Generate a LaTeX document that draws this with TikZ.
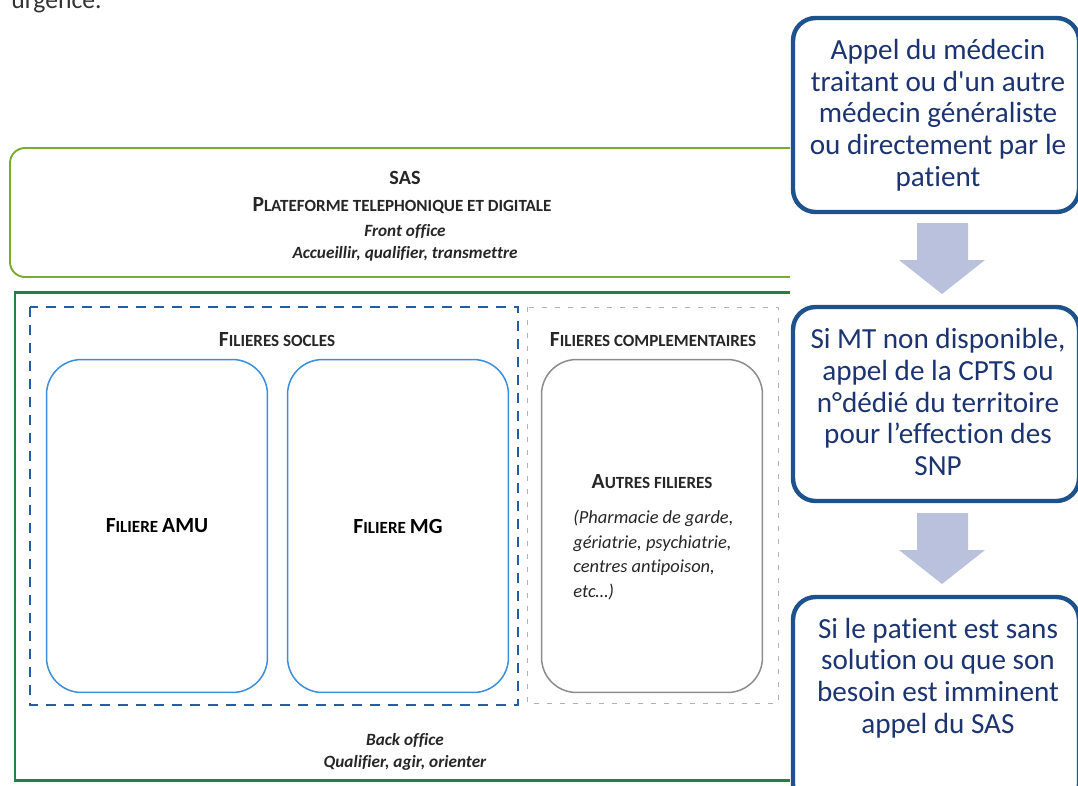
\documentclass[tikz,border=0pt]{standalone}
\usepackage{fontspec}
\setmainfont{Carlito}[Ligatures={TeX,NoCommon}]
\usepackage{tikz}
\usetikzlibrary{calc}
\usetikzlibrary{positioning}

\definecolor{sasgreen}{RGB}{124,172,46}
\definecolor{backgreen}{RGB}{40,128,64}
\definecolor{socleblue}{RGB}{38,92,160}
\definecolor{filblue}{RGB}{60,142,218}
\definecolor{stepblue}{RGB}{30,82,140}
\definecolor{steptext}{RGB}{28,52,112}
\definecolor{arrowgray}{RGB}{186,193,220}

% fake small caps: first letter big, rest small
\newcommand\fsc[2]{{\fontsize{12.3}{14}\selectfont #1}{\fontsize{9.7}{11}\selectfont #2}}

\tikzset{
 stepbox/.style={draw=stepblue, line width=2.5pt, rounded corners=0.45cm, fill=white, minimum width=5.72cm, minimum height=3.88cm},
 steptxt/.style={text=steptext, align=center, font=\fontsize{16.6}{18}\selectfont},
 filbox/.style={draw=filblue, line width=0.85pt, rounded corners=0.7cm, minimum width=4.42cm, minimum height=6.66cm, font=\bfseries},
 lbl/.style={font=\bfseries, text=black!85, inner sep=0pt},
 itlbl/.style={font=\fontsize{9.8}{12}\selectfont\bfseries\itshape, text=black!85, inner sep=0pt}
}

\begin{document}
\begin{tikzpicture}[x=0.02cm, y=-0.02cm]
\useasboundingbox (0,0) rectangle (1078,785);

%text above
\node (urgence) [anchor=base west, inner sep=0pt, font=\fontsize{14.6}{16}\selectfont, text=black!80] at (11,8) {urgence.};

%sas box
\draw[sasgreen, line width=1.1pt, rounded corners=0.3cm] (790,148) -- (10,148) -- (10,277) -- (790,277);
\node (sas) [lbl, font=\fontsize{11.5}{13}\selectfont\bfseries] at (405,178) {SAS};
\node (plateforme) [lbl] at (402,206) {\fsc{P}{LATEFORME TELEPHONIQUE ET DIGITALE}};
\node (front) [itlbl] at (405,231) {Front office};
\node (accueil) [itlbl] at (405,254) {Accueillir, qualifier, transmettre};

%back office box
\draw[backgreen, line width=1.7pt] (790,292) -- (15,292) -- (15,780) -- (790,780);
\node (back) [itlbl] at (405,740) {Back office};
\node (orienter) [itlbl] at (405,763) {Qualifier, agir, orienter};

%filieres socles
\draw[socleblue, line width=1.1pt, dash pattern=on 0.2cm off 0.16cm] (30,307) rectangle (518,705);
\node (socles) [lbl] at (277,340) {\fsc{F}{ILIERES SOCLES}};
\node (amu) [filbox] at (157,526) {\fsc{F}{ILIERE} \fontsize{12.3}{14}\selectfont AMU};
\node (mg) [filbox] at (398,526) {\fsc{F}{ILIERE} \fontsize{12.3}{14}\selectfont MG};

%filieres complementaires
\draw[gray!60, line width=0.5pt, dash pattern=on 0.1cm off 0.16cm] (527,307) rectangle (778,703);
\node (compl) [lbl] at (653,340) {\fsc{F}{ILIERES COMPLEMENTAIRES}};
\node (autres) [filbox, draw=gray!90] at (652,526) {};
\node (autrestitre) [lbl] at (652,482) {\fsc{A}{UTRES FILIERES}};
\node (liste) [anchor=north west, align=left, inner sep=0pt, text=black!85, font=\fontsize{10.5}{13.9}\selectfont\itshape] at (573,510) {(Pharmacie de garde,\\ gériatrie, psychiatrie,\\ centres antipoison,\\ etc…)};

%steps on the right
\node (box1) [stepbox] at (936,115) {};
\node (txt1) [steptxt] at (938,115) {Appel du médecin\\ traitant ou d\textquotesingle un autre\\ médecin généraliste\\ ou directement par le\\ patient};
\node (box2) [stepbox] at (936,404) {};
\node (txt2) [steptxt] at (938,402) {Si MT non disponible,\\ appel de la CPTS ou\\ n°dédié du territoire\\ pour l’effection des\\ SNP};
\node (box3) [stepbox, minimum height=4.2cm] at (936,702) {};
\node (txt3) [steptxt] at (938,678) {Si le patient est sans\\ solution ou que son\\ besoin est imminent\\ appel du SAS};

%arrows
\foreach \t in {223,513} {
\fill[arrowgray] (917,\t) -- (968,\t) -- (968,{\t+37}) -- (985,{\t+37}) -- (942,{\t+71}) -- (899,{\t+37}) -- (917,{\t+37}) -- cycle;
}
\end{tikzpicture}
\end{document}
